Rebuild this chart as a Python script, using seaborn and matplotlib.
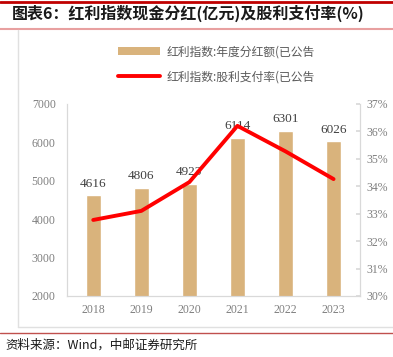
import pandas as pd
import matplotlib.pyplot as plt
import seaborn as sns
from matplotlib.lines import Line2D
from matplotlib.patches import Patch

years = ["2018", "2019", "2020", "2021", "2022", "2023"]
dividends = [4616, 4806, 4923, 6114, 6301, 6026]
payout = [32.77, 33.10, 34.15, 36.20, 35.27, 34.26]

df = pd.DataFrame({"year": years, "dividend": dividends, "payout": payout})

sns.set_theme(style="white")
plt.rcParams['font.family'] = ['Noto Sans CJK SC', 'DejaVu Sans']

bar_color = "#D9B37C"
tick_color = "#7F7F7F"
serif = "Liberation Serif"

fig = plt.figure(figsize=(3.93, 3.57), dpi=100)
ax = fig.add_axes([0.170, 0.171, 0.746, 0.538])

sns.barplot(data=df, x="year", y="dividend", color=bar_color, width=0.32,
            saturation=1, ax=ax)
ax.set_ylim(2000, 7000)
ax.set_yticks(range(2000, 7001, 1000))
ax.set_xlabel("")
ax.set_ylabel("")

for i, v in enumerate(dividends):
    ax.text(i, v + 150, str(v), ha="center", va="bottom", fontsize=9.5,
            family=serif, color="#404040")

ax2 = ax.twinx()
sns.lineplot(x=list(range(len(years))), y=payout, color="#FF0000",
             linewidth=2.8, ax=ax2)
ax2.set_ylim(30, 37)
ax2.set_yticks(range(30, 38))
ax2.set_yticklabels([f"{t}%" for t in range(30, 38)])
ax.set_xlim(-0.55, 5.55)

for a in (ax, ax2):
    for s in a.spines.values():
        s.set_color("#D9D9D9")
        s.set_linewidth(0.8)
    a.spines["top"].set_visible(False)
    a.tick_params(labelsize=8.5, colors=tick_color, length=0, pad=8)
    for lab in a.get_xticklabels() + a.get_yticklabels():
        lab.set_family(serif)
ax2.tick_params(axis="y", length=3, direction="in", color="#D9D9D9", pad=5)
ax.tick_params(axis="x", pad=6)

handles = [Patch(facecolor=bar_color, edgecolor="none"),
           Line2D([0], [0], color="#FF0000", linewidth=2.8)]
labels = ["红利指数:年度分红额(已公告", "红利指数:股利支付率(已公告"]
fig.legend(handles, labels, loc="center", bbox_to_anchor=(0.55, 0.82),
           frameon=False, fontsize=8.5, labelcolor="#595959",
           handlelength=3.6, handleheight=0.6, labelspacing=1.0,
           handletextpad=0.5)

# frame decorations
fig.add_artist(Line2D([0, 1], [0.993, 0.993], color="#C00000", linewidth=2,
                      transform=fig.transFigure))
fig.add_artist(Line2D([0, 1], [0.918, 0.918], color="#E8A0A0", linewidth=1.5,
                      transform=fig.transFigure))
fig.add_artist(Line2D([0.046, 0.046], [0.084, 0.915], color="#E0E0E0",
                      linewidth=1, transform=fig.transFigure))
fig.add_artist(Line2D([0.046, 1], [0.084, 0.084], color="#E0E0E0",
                      linewidth=1, transform=fig.transFigure))
fig.add_artist(Line2D([0, 1], [0.068, 0.068], color="#C0504D", linewidth=1,
                      transform=fig.transFigure))

fig.text(0.03, 0.962, "图表6：红利指数现金分红(亿元)及股利支付率(%)",
         fontsize=11.5, fontweight="bold", color="#1A1A1A", va="center")
fig.text(0.015, 0.033, "资料来源：Wind，中邮证券研究所", fontsize=9,
         color="#1A1A1A", va="center")

fig.savefig("out.png", dpi=100)
